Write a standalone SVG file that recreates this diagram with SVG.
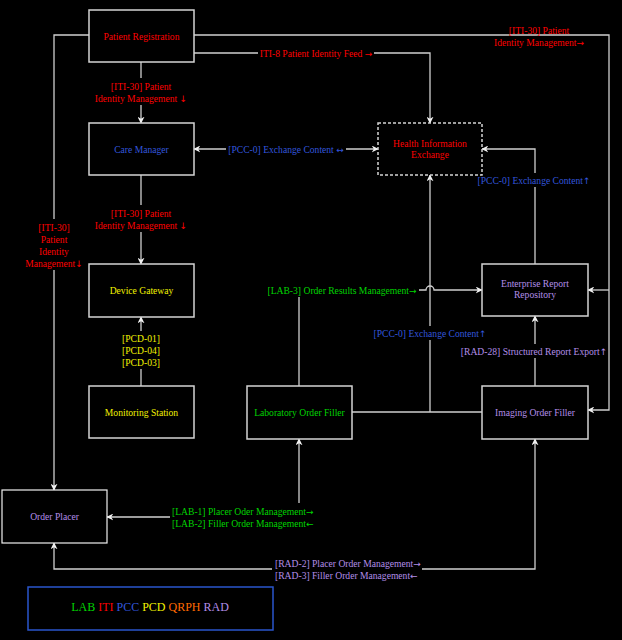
<svg xmlns="http://www.w3.org/2000/svg" width="622" height="640" viewBox="0 0 622 640">
<defs>
<marker id="arr" viewBox="0 0 10 10" refX="9" refY="5" markerWidth="7" markerHeight="7" markerUnits="userSpaceOnUse" orient="auto-start-reverse">
<path d="M0,0 L10,5 L0,10 L3,5 z" fill="#f0f0f0"/>
</marker>
<style>
text{font-family:"Liberation Serif","Times New Roman",serif;font-size:9.6px;text-anchor:middle}
.ar{font-family:"DejaVu Sans",sans-serif;font-size:9px}
.box{fill:#000;stroke:#d4d4d4;stroke-width:1.5}
.dash{fill:#000;stroke:#d4d4d4;stroke-width:1.5;stroke-dasharray:3,2}
.ln{fill:none;stroke:#cfcfcf;stroke-width:1.3}
.bg{fill:#000}
.red{fill:#ff0000}
.blue{fill:#3356dd}
.green{fill:#00d400}
.yel{fill:#f2f200}
.pur{fill:#b38ee8}
.org{fill:#ff6a00}
.st{text-anchor:start}
</style>
</defs>
<rect x="0" y="0" width="622" height="640" fill="#000"/>

<g id="connectors">
<path class="ln" d="M89,35 H54 V490" marker-end="url(#arr)"/>
<path class="ln" d="M194,35 H609 V410 H588" marker-end="url(#arr)"/>
<path class="ln" d="M609,290 H588" marker-end="url(#arr)"/>
<path class="ln" d="M194,53 H430 V123" marker-end="url(#arr)"/>
<path class="ln" d="M141,62 V123" marker-end="url(#arr)"/>
<path class="ln" d="M141,175 V264" marker-end="url(#arr)"/>
<path class="ln" d="M194,149 H378" marker-start="url(#arr)" marker-end="url(#arr)"/>
<path class="ln" d="M141,386 V317" marker-end="url(#arr)"/>
<path class="ln" d="M299,386 V290 H426 A4,4 0 0 1 434,290 H482" marker-end="url(#arr)"/>
<path class="ln" d="M352,412 H482"/>
<path class="ln" d="M430,412 V175" marker-end="url(#arr)"/>
<path class="ln" d="M535,264 V149 H482" marker-end="url(#arr)"/>
<path class="ln" d="M535,386 V316" marker-end="url(#arr)"/>
<path class="ln" d="M107,517 H299 V439" marker-start="url(#arr)" marker-end="url(#arr)"/>
<path class="ln" d="M54,543 V569 H535 V439" marker-start="url(#arr)" marker-end="url(#arr)"/>
</g>

<g id="labels">
<g id="lbl-iti30-top">
<rect class="bg" x="92" y="78" width="98" height="27"/>
<text class="red" x="141" y="89.5">[ITI-30] Patient</text>
<text class="red" x="141" y="101.5">Identity Management <tspan class="ar">↓</tspan></text>
</g>
<g id="lbl-iti30-mid">
<rect class="bg" x="92" y="205" width="98" height="27"/>
<text class="red" x="141" y="216.5">[ITI-30] Patient</text>
<text class="red" x="141" y="228.5">Identity Management <tspan class="ar">↓</tspan></text>
</g>
<g id="lbl-iti30-left">
<rect class="bg" x="22" y="219" width="64" height="51"/>
<text class="red" x="54" y="230.5">[ITI-30]</text>
<text class="red" x="54" y="243">Patient</text>
<text class="red" x="54" y="255">Identity</text>
<text class="red" x="54" y="267">Management<tspan class="ar">↓</tspan></text>
</g>
<g id="lbl-iti30-right">
<text class="red" x="539" y="33.5">[ITI-30] Patient</text>
<text class="red" x="539" y="45.5">Identity Management<tspan class="ar">→</tspan></text>
</g>
<g id="lbl-iti8">
<rect class="bg" x="258" y="46" width="116" height="14"/>
<text class="red" x="316" y="56.5">ITI-8 Patient Identity Feed <tspan class="ar">→</tspan></text>
</g>
<g id="lbl-pcc-cm">
<rect class="bg" x="226" y="142" width="120" height="14"/>
<text class="blue" x="286" y="152.5">[PCC-0] Exchange Content <tspan class="ar">↔</tspan></text>
</g>
<g id="lbl-pcc-err">
<rect class="bg" x="479" y="173" width="110" height="14"/>
<text class="blue" x="534" y="183.5">[PCC-0] Exchange Content<tspan class="ar">↑</tspan></text>
</g>
<g id="lbl-pcc-lab">
<rect class="bg" x="374" y="326" width="112" height="14"/>
<text class="blue" x="430" y="336.5">[PCC-0] Exchange Content<tspan class="ar">↑</tspan></text>
</g>
<g id="lbl-pcd">
<rect class="bg" x="116" y="331" width="50" height="38"/>
<text class="yel" x="141" y="341.5">[PCD-01]</text>
<text class="yel" x="141" y="353.5">[PCD-04]</text>
<text class="yel" x="141" y="365.5">[PCD-03]</text>
</g>
<g id="lbl-lab3">
<rect class="bg" x="265" y="283" width="154" height="14"/>
<text class="green" x="342" y="293.5">[LAB-3] Order Results Management<tspan class="ar">→</tspan></text>
</g>
<g id="lbl-rad28">
<rect class="bg" x="462" y="344" width="146" height="14"/>
<text class="pur" x="534" y="354.5">[RAD-28] Structured Report Export<tspan class="ar">↑</tspan></text>
</g>
<g id="lbl-lab1">
<rect class="bg" x="170" y="503" width="146" height="26"/>
<text class="green st" x="172" y="514.5">[LAB-1] Placer Oder Management<tspan class="ar">→</tspan></text>
<text class="green st" x="172" y="526.5">[LAB-2] Filler Order Management<tspan class="ar">←</tspan></text>
</g>
<g id="lbl-rad2">
<rect class="bg" x="272" y="556" width="150" height="25"/>
<text class="pur st" x="275" y="566.5">[RAD-2] Placer Order Management<tspan class="ar">→</tspan></text>
<text class="pur st" x="275" y="578.5">[RAD-3] Filler Order Management<tspan class="ar">←</tspan></text>
</g>
</g>

<g id="patient-registration">
<rect class="box" x="89" y="10" width="105" height="52"/>
<text class="red" x="141.5" y="39.5">Patient Registration</text>
</g>
<g id="care-manager">
<rect class="box" x="89" y="123" width="105" height="52"/>
<text class="blue" x="141.5" y="152.5">Care Manager</text>
</g>
<g id="device-gateway">
<rect class="box" x="89" y="264" width="105" height="53"/>
<text class="yel" x="141.5" y="293.5">Device Gateway</text>
</g>
<g id="monitoring-station">
<rect class="box" x="89" y="386" width="105" height="52"/>
<text class="yel" x="141.5" y="415.5">Monitoring Station</text>
</g>
<g id="health-information-exchange">
<rect class="dash" x="378" y="123" width="104" height="52"/>
<text class="red" x="430" y="146.5">Health Information</text>
<text class="red" x="430" y="158">Exchange</text>
</g>
<g id="enterprise-report-repository">
<rect class="box" x="482" y="264" width="106" height="52"/>
<text class="pur" x="535" y="286.5">Enterprise Report</text>
<text class="pur" x="535" y="298">Repository</text>
</g>
<g id="laboratory-order-filler">
<rect class="box" x="247" y="386" width="105" height="53"/>
<text class="green" x="299.5" y="415.5">Laboratory Order Filler</text>
</g>
<g id="imaging-order-filler">
<rect class="box" x="482" y="386" width="106" height="53"/>
<text class="pur" x="535" y="415.5">Imaging Order Filler</text>
</g>
<g id="order-placer">
<rect class="box" x="2" y="490" width="105" height="53" style="stroke:#f0f0f0;stroke-width:1.2"/>
<text class="pur" x="54.5" y="519.5">Order Placer</text>
</g>

<g id="legend">
<rect x="28" y="587" width="245" height="43" fill="#000" stroke="#2a55cc" stroke-width="1.5"/>
<text x="150" y="611" style="font-size:12px"><tspan class="green">LAB</tspan> <tspan class="red">ITI</tspan> <tspan class="blue">PCC</tspan> <tspan class="yel">PCD</tspan> <tspan class="org">QRPH</tspan> <tspan class="pur">RAD</tspan></text>
</g>
</svg>
